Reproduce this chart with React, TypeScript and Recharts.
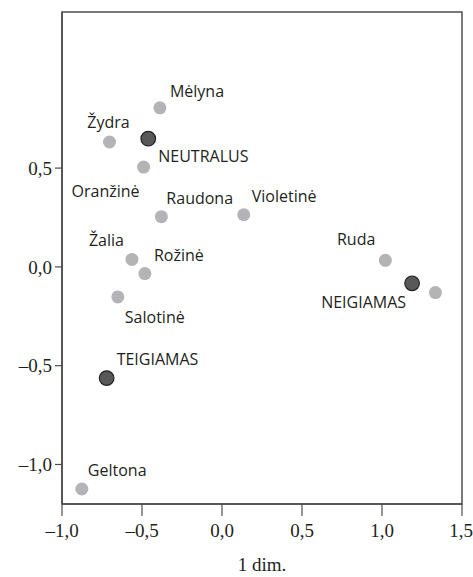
import React from 'react';
import { ScatterChart, Scatter, XAxis, YAxis, ReferenceArea } from 'recharts';

// colour words (grey points)
const colorNames = ['Mėlyna', 'Žydra', 'Oranžinė', 'Raudona', 'Violetinė', 'Žalia', 'Rožinė', 'Salotinė', 'Ruda', '', 'Geltona'];
const colorX = [-0.388, -0.703, -0.49, -0.379, 0.136, -0.563, -0.482, -0.651, 1.021, 1.334, -0.876];
const colorY = [0.805, 0.632, 0.505, 0.254, 0.264, 0.038, -0.034, -0.152, 0.033, -0.13, -1.124];

// sentiment anchors (dark points)
const anchorNames = ['NEUTRALUS', 'NEIGIAMAS', 'TEIGIAMAS'];
const anchorX = [-0.461, 1.188, -0.721];
const anchorY = [0.649, -0.083, -0.563];

const xTicks = [-1, -0.5, 0, 0.5, 1, 1.5];
const yTicks = [-1, -0.5, 0, 0.5];
const xDomain = [-1, 1.5];
const yDomain = [-1.2, 1.29];

// where each label sits relative to its point
const labelPlace: Record<string, { anchor: 'start' | 'middle' | 'end'; dx: number; dy: number }> = {
  'Mėlyna': { anchor: 'start', dx: 10, dy: -17 },
  'Žydra': { anchor: 'middle', dx: -1, dy: -20 },
  'Oranžinė': { anchor: 'end', dx: -4, dy: 24 },
  'Raudona': { anchor: 'start', dx: 5, dy: -19 },
  'Violetinė': { anchor: 'start', dx: 8, dy: -19 },
  'Žalia': { anchor: 'end', dx: -8, dy: -19 },
  'Rožinė': { anchor: 'start', dx: 9, dy: -19 },
  'Salotinė': { anchor: 'start', dx: 7, dy: 20 },
  'Ruda': { anchor: 'end', dx: -10, dy: -21 },
  'Geltona': { anchor: 'start', dx: 6, dy: -19 },
  'NEUTRALUS': { anchor: 'start', dx: 10, dy: 17 },
  'NEIGIAMAS': { anchor: 'end', dx: -6, dy: 19 },
  'TEIGIAMAS': { anchor: 'start', dx: 10, dy: -19 },
};

const colorData = colorNames.map((name, i) => ({ name, x: colorX[i], y: colorY[i] }));
const anchorData = anchorNames.map((name, i) => ({ name, x: anchorX[i], y: anchorY[i] }));

const textColor = '#231f20';
const frameColor = '#4d4d4f';

const fmt = (v: number) => {
  const s = Math.abs(v).toFixed(1).replace('.', ',');
  return v < 0 ? '–' + s : s;
};

function PointLabel({ cx, cy, name }: { cx: number; cy: number; name: string }) {
  const p = labelPlace[name];
  if (!name || !p) return null;
  return (
    <text
      x={cx + p.dx}
      y={cy + p.dy}
      textAnchor={p.anchor}
      dominantBaseline="central"
      fontFamily="'Open Sans', sans-serif"
      fontSize={16}
      fill={textColor}
    >
      {name}
    </text>
  );
}

const GreyDot = (props: any) => (
  <g>
    <circle cx={props.cx} cy={props.cy} r={6.5} fill="#b4b4b7" />
    <PointLabel cx={props.cx} cy={props.cy} name={props.payload?.name} />
  </g>
);

const DarkDot = (props: any) => (
  <g>
    <circle cx={props.cx} cy={props.cy} r={7.3} fill="#58585a" stroke="#222" strokeWidth={1.2} />
    <PointLabel cx={props.cx} cy={props.cy} name={props.payload?.name} />
  </g>
);

const tickStyle = { fontFamily: "'Liberation Serif', 'Times New Roman', serif", fontSize: 19, fill: textColor };

export default function App() {
  return (
    <div style={{ position: 'absolute', left: 0, top: 0, background: '#fff' }}>
      <ScatterChart width={473} height={577} margin={{ top: 12, right: 11, bottom: 0, left: 0 }}>
        <XAxis
          type="number"
          dataKey="x"
          domain={xDomain}
          ticks={xTicks}
          tickFormatter={fmt}
          allowDataOverflow
          height={73}
          tickSize={12}
          tickMargin={8}
          tick={tickStyle}
          axisLine={{ stroke: frameColor, strokeWidth: 1.5 }}
          tickLine={{ stroke: frameColor, strokeWidth: 1.2 }}
          label={{
            value: '1 dim.',
            position: 'insideBottom',
            offset: 6,
            style: { ...tickStyle, fontSize: 19 },
          }}
        />
        <YAxis
          type="number"
          dataKey="y"
          domain={yDomain}
          ticks={yTicks}
          tickFormatter={fmt}
          allowDataOverflow
          width={62}
          tickSize={7}
          tickMargin={3}
          tick={tickStyle}
          axisLine={{ stroke: frameColor, strokeWidth: 1.5 }}
          tickLine={{ stroke: frameColor, strokeWidth: 1.2 }}
        />
        <ReferenceArea
          x1={xDomain[0]}
          x2={xDomain[1]}
          y1={yDomain[0]}
          y2={yDomain[1]}
          fill="none"
          stroke={frameColor}
          strokeWidth={1.5}
          fillOpacity={0}
        />
        <Scatter data={colorData} shape={GreyDot} isAnimationActive={false} />
        <Scatter data={anchorData} shape={DarkDot} isAnimationActive={false} />
      </ScatterChart>
    </div>
  );
}
